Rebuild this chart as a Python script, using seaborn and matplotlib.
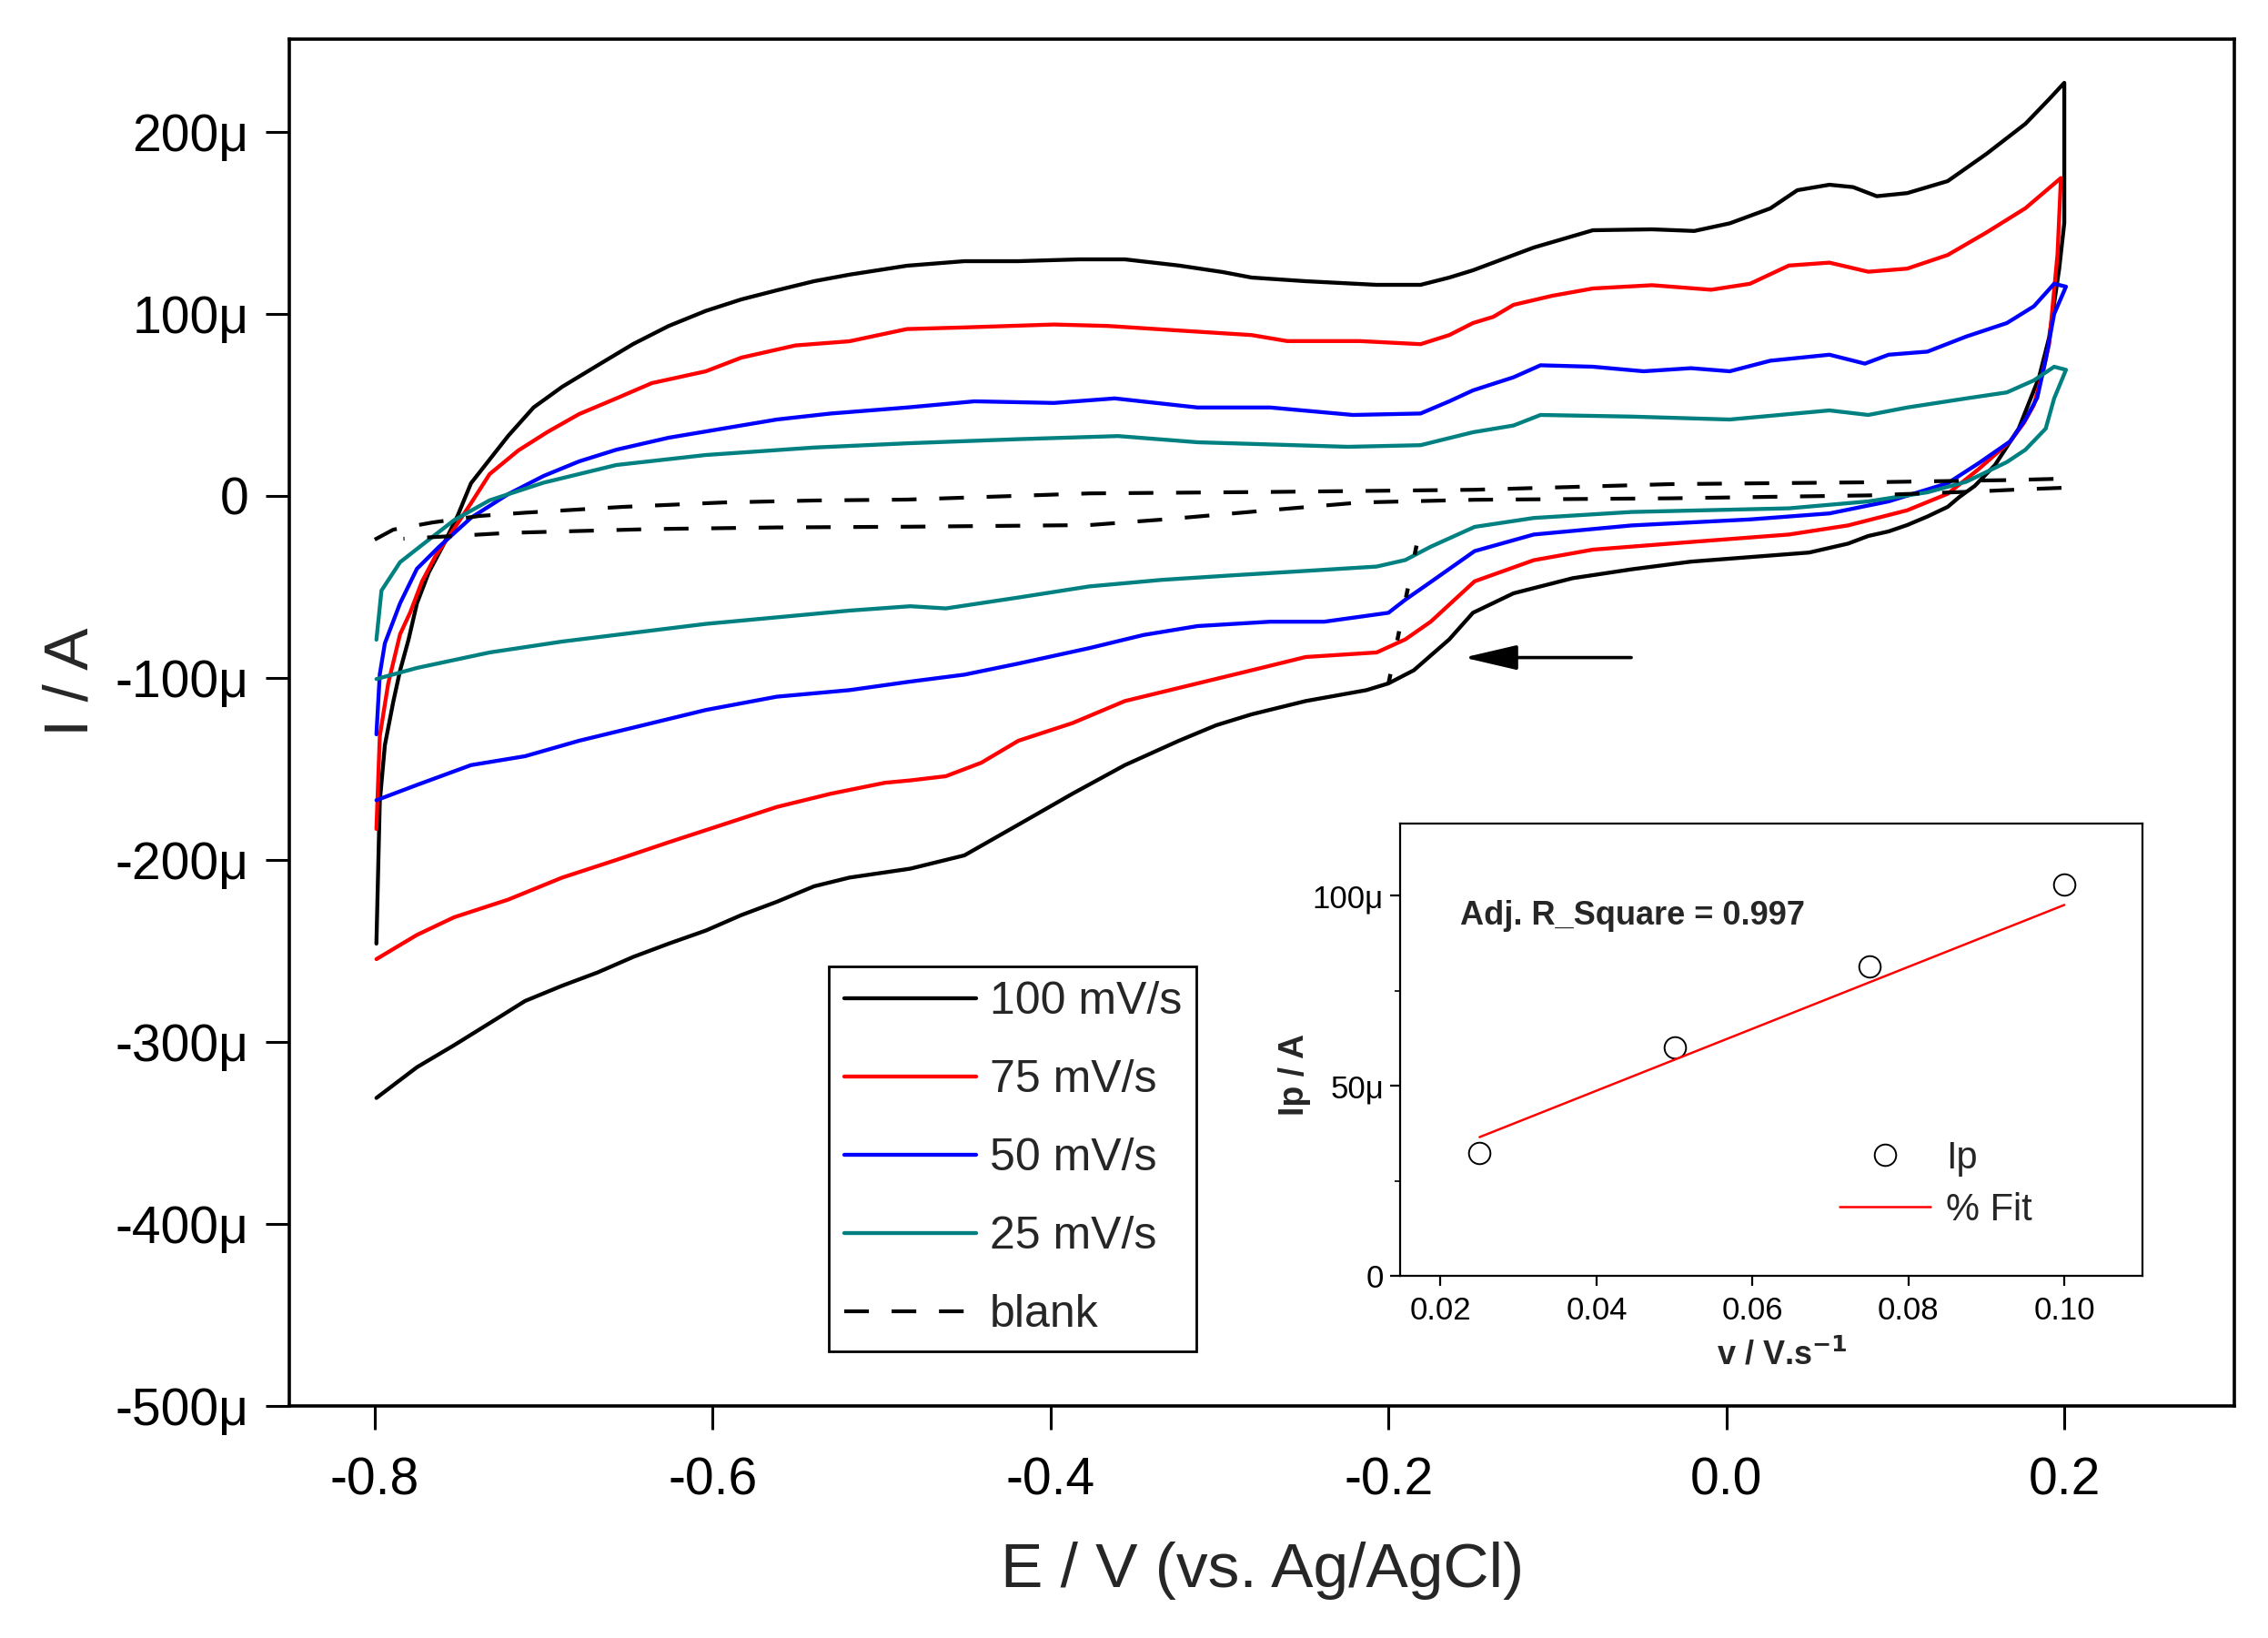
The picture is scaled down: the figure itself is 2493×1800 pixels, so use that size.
import matplotlib
matplotlib.use("Agg")
import matplotlib.pyplot as plt
import seaborn as sns
import numpy as np
from matplotlib.ticker import FuncFormatter, MultipleLocator

# cyclic voltammograms: E in V, I in microamps
# forward sweep (-0.8 -> 0.2) and reverse sweep (0.2 -> -0.8) for each scan rate
e_100_fwd = [-0.799, -0.797, -0.794, -0.789, -0.785, -0.780, -0.775, -0.768, -0.760, -0.751,
             -0.743, -0.732, -0.721, -0.706, -0.689, -0.668, -0.647, -0.626, -0.604, -0.583,
             -0.562, -0.540, -0.519, -0.485, -0.451, -0.419, -0.383, -0.356, -0.324, -0.298,
             -0.281, -0.249, -0.207, -0.181, -0.164, -0.150, -0.114, -0.079, -0.044, -0.019,
             0.002, 0.026, 0.042, 0.061, 0.075, 0.089, 0.107, 0.131, 0.154, 0.177, 0.191, 0.200]
i_100_fwd = [-246, -168, -137, -113, -96, -79, -59, -42, -28, -11,
             7, 20, 33, 48.6, 60, 71.8, 83.5, 93.4, 101.7, 108,
             113, 118, 121.6, 126.5, 129, 129, 130, 130, 126.6, 123,
             120, 118, 116, 116, 120, 124, 136.5, 146, 146.5, 145.6,
             149.8, 158, 168, 171, 169.7, 164.7, 166.4, 173, 188, 204.5, 218, 227]
e_100_rev = [0.200, 0.197, 0.191, 0.185, 0.173, 0.159, 0.147, 0.138, 0.131, 0.119,
             0.107, 0.096, 0.084, 0.072, 0.049, 0.014, -0.021, -0.056, -0.091, -0.126,
             -0.150, -0.164, -0.185, -0.200, -0.213, -0.249, -0.281, -0.302, -0.324, -0.356,
             -0.387, -0.419, -0.451, -0.483, -0.519, -0.540, -0.562, -0.583, -0.604, -0.626,
             -0.647, -0.668, -0.689, -0.711, -0.732, -0.753, -0.775, -0.799]
i_100_rev = [150, 125, 87, 65, 37, 17, 5.5, -0.5, -6, -11.3,
             -16, -19.5, -22, -26.2, -31.1, -33.6, -36.1, -40.3, -45.2, -53.5,
             -64.2, -78.8, -95.8, -103, -106.7, -112.7, -120, -126, -134.5, -147.9,
             -163.6, -180.6, -197.5, -204.8, -209.7, -214.5, -223, -230.3, -238.8, -246,
             -253.3, -261.8, -269.1, -277.5, -289.7, -301.8, -313.9, -330.8]

e_75_fwd = [-0.799, -0.797, -0.792, -0.785, -0.779, -0.772, -0.764, -0.753, -0.743, -0.732,
            -0.715, -0.698, -0.679, -0.657, -0.636, -0.604, -0.583, -0.551, -0.519, -0.485,
            -0.451, -0.398, -0.366, -0.324, -0.281, -0.260, -0.217, -0.181, -0.164, -0.150,
            -0.138, -0.126, -0.103, -0.079, -0.044, -0.009, 0.014, 0.037, 0.061, 0.084,
            0.107, 0.131, 0.154, 0.177, 0.198]
i_75_fwd = [-183, -132, -103, -76, -64, -47, -33, -18, -4, 12,
            25, 35, 45, 53.6, 62, 68.5, 76, 82.7, 85, 91.7,
            92.6, 94.2, 93.4, 90.9, 88.4, 85.1, 85.1, 83.4, 88.4, 95,
            98.4, 105, 110, 114, 115.8, 113.3, 116.6, 126.6, 128.2, 123.2,
            124.9, 132.4, 144.8, 158.1, 174.7]
e_75_rev = [0.198, 0.196, 0.191, 0.187, 0.182, 0.176, 0.168, 0.149, 0.131, 0.107,
            0.072, 0.037, -0.021, -0.079, -0.114, -0.149, -0.175, -0.190, -0.207, -0.249,
            -0.281, -0.313, -0.356, -0.387, -0.419, -0.441, -0.462, -0.483, -0.498, -0.530,
            -0.562, -0.594, -0.626, -0.657, -0.689, -0.721, -0.753, -0.775, -0.799]
i_75_rev = [174.7, 133, 83.4, 67, 50, 40, 30, 14.5, 1.2, -7.9,
            -16.2, -21.2, -25.3, -29.5, -35.3, -46.9, -69.1, -78.8, -86, -88.5,
            -95.8, -103, -112.7, -124.8, -134.5, -146.6, -154, -156.3, -157.6, -163.6,
            -170.9, -180.6, -190.3, -200, -209.7, -221.8, -231.5, -241.2, -254.5]

e_50_fwd = [-0.799, -0.797, -0.794, -0.785, -0.775, -0.762, -0.743, -0.721, -0.700, -0.679,
            -0.657, -0.626, -0.594, -0.562, -0.530, -0.485, -0.445, -0.398, -0.362, -0.313,
            -0.270, -0.221, -0.181, -0.164, -0.150, -0.126, -0.110, -0.079, -0.049, -0.021,
            0.002, 0.026, 0.061, 0.082, 0.096, 0.119, 0.142, 0.166, 0.182, 0.194, 0.201]
i_50_fwd = [-131, -98, -81, -59, -40, -28, -12, 1, 11, 19,
            25.4, 32, 37, 42, 45.3, 48.6, 52, 51.1, 53.6, 48.6,
            48.6, 44.5, 45.3, 52, 58, 65.2, 71.8, 71, 68.5, 70.2,
            68.5, 74.3, 77.6, 72.7, 77.6, 79.3, 87.6, 95, 104.2, 116.6, 115]
e_50_rev = [0.201, 0.194, 0.189, 0.184, 0.177, 0.168, 0.149, 0.131, 0.096, 0.061,
            0.014, -0.056, -0.114, -0.149, -0.175, -0.190, -0.200, -0.238, -0.270, -0.313,
            -0.345, -0.377, -0.419, -0.451, -0.483, -0.519, -0.562, -0.604, -0.647, -0.679,
            -0.711, -0.743, -0.775, -0.799]
i_50_rev = [115, 100, 75, 54, 42, 30, 17.8, 7, -3, -9.6,
            -12.9, -16.2, -21.2, -30.3, -47.3, -57, -64.2, -69.1, -69.1, -71.5,
            -76.4, -83.6, -92.1, -98.2, -102, -106.7, -110.3, -117.6, -127.3, -134.5,
            -143, -147.9, -158.8, -167.2]

e_25_fwd = [-0.799, -0.796, -0.785, -0.770, -0.753, -0.732, -0.700, -0.657, -0.604, -0.540,
            -0.483, -0.419, -0.360, -0.313, -0.224, -0.181, -0.150, -0.126, -0.110, -0.056,
            0.002, 0.061, 0.084, 0.107, 0.142, 0.166, 0.182, 0.194, 0.201]
i_25_fwd = [-79, -52, -36.4, -25.5, -13.3, -2.4, 7.3, 17, 22.5, 26.6,
            29, 31.2, 32.9, 29.5, 27, 27.9, 35, 38.7, 44.5, 43.6,
            42, 47, 44.5, 48.6, 53.6, 56.9, 63.5, 71, 69.3]
e_25_rev = [0.201, 0.194, 0.189, 0.177, 0.166, 0.142, 0.119, 0.084, 0.037, -0.056,
            -0.114, -0.149, -0.175, -0.190, -0.207, -0.249, -0.292, -0.334, -0.377, -0.419,
            -0.462, -0.483, -0.519, -0.562, -0.604, -0.647, -0.689, -0.732, -0.775, -0.799]
i_25_rev = [69.3, 53.6, 37, 25.4, 18.6, 7.8, 2, -3, -6.8, -8.8,
            -12.1, -17, -27.9, -35.2, -38.8, -41.2, -43.6, -46.1, -49.7, -55.8,
            -61.8, -60.6, -63, -66.7, -70.3, -75.2, -80, -86, -94.5, -100.6]

e_blank_fwd = [-0.800, -0.789, -0.766, -0.738, -0.711, -0.653, -0.594, -0.540, -0.485, -0.377,
               -0.270, -0.149, -0.033, 0.084, 0.166, 0.200]
i_blank_fwd = [-24, -18.5, -14.6, -11, -9.2, -6, -3.6, -2.5, -2, 1.4,
               2.2, 3.4, 6.5, 7.5, 8.7, 9.5]
e_blank_rev = [0.200, 0.177, 0.149, 0.084, -0.033, -0.149, -0.217, -0.270, -0.330, -0.377,
               -0.483, -0.562, -0.636, -0.721, -0.749, -0.783]
i_blank_rev = [4.5, 3.7, 2.5, 0.3, -1.3, -2.1, -3.6, -7.8, -12.7, -16,
               -16.9, -17.3, -18.2, -20.3, -21.8, -23.5]
# short dashed black trace near -0.19 V
e_blank_step = [-0.1834, -0.2011]
i_blank_step = [-27.3, -108.3]

# inset: peak current vs scan rate
scan_rate = [0.025, 0.050, 0.075, 0.100]
ip_ua = [32.3, 60.1, 81.4, 102.9]
fit_rate = [0.025, 0.100]
fit_ip_ua = [36.5, 97.6]

labels = ["100 mV/s", "75 mV/s", "50 mV/s", "25 mV/s", "blank"]
colors = ["black", "red", "blue", "#008080"]


def amps(ua):
    return np.asarray(ua) * 1e-6


def micro_fmt(v, pos):
    if abs(v) < 1e-12:
        return "0"
    return f"{v * 1e6:.0f}μ"


sns.set_theme(style="ticks")
plt.rcParams["font.family"] = ["Liberation Sans", "DejaVu Sans"]
plt.rcParams["axes.unicode_minus"] = False

fig = plt.figure(figsize=(24.93, 18.0), dpi=100)
ax = fig.add_axes([0.1276, 0.1417, 0.8576, 0.8344])

series = [
    (e_100_fwd + e_100_rev, i_100_fwd + i_100_rev),
    (e_75_fwd + e_75_rev, i_75_fwd + i_75_rev),
    (e_50_fwd + e_50_rev, i_50_fwd + i_50_rev),
    (e_25_fwd + e_25_rev, i_25_fwd + i_25_rev),
]
for (e, i), lab, col in zip(series, labels, colors):
    sns.lineplot(x=e, y=amps(i), sort=False, estimator=None, color=col, lw=3.1,
                 label=lab, ax=ax)

blank_dash = (0, (6.5, 6))
sns.lineplot(x=e_blank_fwd + e_blank_rev, y=amps(i_blank_fwd + i_blank_rev), sort=False,
             estimator=None, color="black", lw=3.0, linestyle=blank_dash, label=labels[4], ax=ax)
sns.lineplot(x=e_blank_step, y=amps(i_blank_step), sort=False, estimator=None,
             color="black", lw=3.2, linestyle=(0, (2.3, 8.5)), ax=ax)

ax.annotate("", xy=(-0.1554, -88.8e-6), xytext=(-0.0563, -88.8e-6),
            arrowprops=dict(arrowstyle="-|>,head_length=1.8,head_width=0.42",
                            color="black", lw=2.6, mutation_scale=20,
                            shrinkA=0, shrinkB=0))

ax.set_xlim(-0.8505, 0.3007)
ax.set_ylim(-500e-6, 251e-6)
ax.set_xticks([-0.8, -0.6, -0.4, -0.2, 0.0, 0.2])
ax.xaxis.set_major_formatter(FuncFormatter(lambda v, p: f"{v:.1f}"))
ax.yaxis.set_major_locator(MultipleLocator(100e-6))
ax.yaxis.set_major_formatter(FuncFormatter(micro_fmt))
ax.tick_params(axis="both", which="major", direction="out", length=19, width=2.2,
               labelsize=41, top=False, right=False, colors="black")
ax.tick_params(axis="x", pad=21)
ax.tick_params(axis="y", pad=13)
for sp in ax.spines.values():
    sp.set_linewidth(2.6)
    sp.set_color("black")
ax.set_xlabel("E / V (vs. Ag/AgCl)", fontsize=50)
ax.set_ylabel("I / A", fontsize=50)
ax.xaxis.set_label_coords(0.5, -0.099)
ax.yaxis.set_label_coords(-0.097, 0.53)

leg = ax.legend(loc="upper left", bbox_to_anchor=(911 / 2493, 1 - 1062 / 1800),
                bbox_transform=fig.transFigure, fontsize=36, frameon=True, fancybox=False,
                edgecolor="black", handlelength=2.9, handletextpad=0.3, labelspacing=0.8,
                borderpad=0.33, borderaxespad=0, framealpha=1)
leg.get_frame().set_linewidth(2.0)

# inset
axi = fig.add_axes([0.6173, 0.2211, 0.3273, 0.2761])
sns.lineplot(x=scan_rate, y=amps(ip_ua), sort=False, estimator=None, linestyle="none",
             marker="o", markersize=17, markerfacecolor="none", markeredgecolor="black",
             markeredgewidth=1.4, color="black", label="Ip", ax=axi)
sns.lineplot(x=fit_rate, y=amps(fit_ip_ua), sort=False, estimator=None, color="red",
             lw=1.8, label="% Fit", ax=axi)
axi.set_xlim(0.0148, 0.110)
axi.set_ylim(0, 119e-6)
axi.set_xticks([0.02, 0.04, 0.06, 0.08, 0.10])
axi.xaxis.set_major_formatter(FuncFormatter(lambda v, p: f"{v:.2f}"))
axi.yaxis.set_major_locator(MultipleLocator(50e-6))
axi.yaxis.set_minor_locator(MultipleLocator(25e-6))
axi.yaxis.set_major_formatter(FuncFormatter(micro_fmt))
axi.tick_params(axis="both", which="major", direction="out", length=8, width=1.6,
                labelsize=25, top=False, right=False, colors="black")
axi.tick_params(axis="x", pad=8)
axi.tick_params(axis="y", pad=5)
axi.tick_params(axis="y", which="minor", direction="out", length=4, width=1.4,
                left=True, right=False)
for sp in axi.spines.values():
    sp.set_linewidth(1.6)
    sp.set_color("black")
axi.set_xlabel(r"v / V.s$^{\mathbf{-1}}$", fontsize=26, fontweight="bold")
axi.set_ylabel("Ip / A", fontsize=27, fontweight="bold")
axi.xaxis.set_label_coords(0.515, -0.14)
axi.yaxis.set_label_coords(-0.12, 0.445)
axi.text(0.081, 0.795, "Adj. R_Square = 0.997", transform=axi.transAxes, fontsize=26,
         fontweight="bold", ha="left", va="center")
axi.legend(loc="upper left", bbox_to_anchor=(2022 / 2493, 1 - 1253 / 1800),
           bbox_transform=fig.transFigure, fontsize=30, frameon=False, handlelength=2.4,
           handletextpad=0.4, labelspacing=0.4, borderpad=0, borderaxespad=0)

fig.savefig("out.png", dpi=100)
